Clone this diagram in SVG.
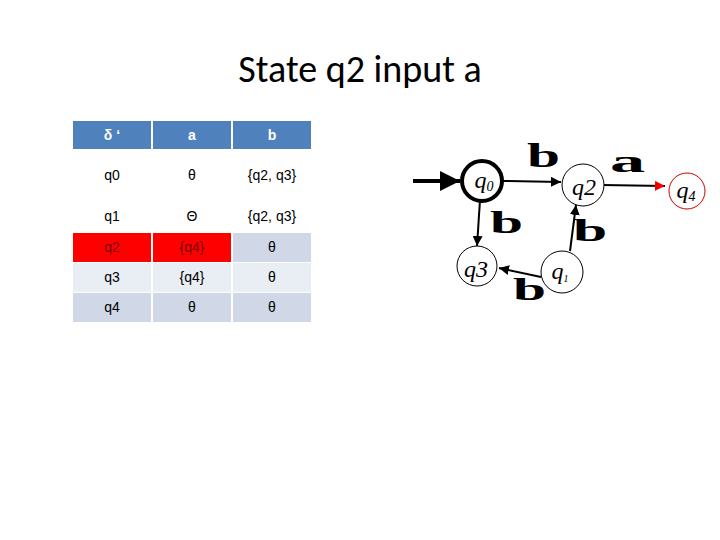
<svg xmlns="http://www.w3.org/2000/svg" width="720" height="540" viewBox="0 0 720 540">
<style>
.t{font-family:"Liberation Sans",Arial,sans-serif;font-size:14px;text-anchor:middle}
.h{fill:#fff;font-weight:bold}
.bl{font-family:"Liberation Serif",serif;font-weight:bold;font-size:44px;fill:#000}
.q{font-family:"Liberation Serif",serif;font-style:italic;font-size:24px;text-anchor:middle}
.e{stroke:#000;stroke-width:2;fill:none}
</style>
<defs>
<marker id="ar" viewBox="0 0 10 10" refX="10" refY="5" markerWidth="5" markerHeight="5" orient="auto"><path d="M0,0L10,5L0,10z" fill="#000"/></marker>
<marker id="arr" viewBox="0 0 10 10" refX="10" refY="5" markerWidth="5" markerHeight="5" orient="auto"><path d="M0,0L10,5L0,10z" fill="#e00"/></marker>
</defs>
<rect width="720" height="540" fill="#fff"/>
<text x="360" y="82" font-family="Calibri,'Liberation Sans',sans-serif" font-size="38" text-anchor="middle">State q2 input a</text>
<g id="table">
<rect x="73" y="121" width="78" height="28" fill="#4F81BD"/><rect x="153" y="121" width="78" height="28" fill="#4F81BD"/><rect x="233" y="121" width="78" height="28" fill="#4F81BD"/>
<rect x="73" y="233" width="78" height="29" fill="#FF0000"/><rect x="153" y="233" width="78" height="29" fill="#FF0000"/><rect x="233" y="233" width="78" height="29" fill="#D0D8E8"/>
<rect x="73" y="263" width="78" height="29" fill="#E9EDF4"/><rect x="153" y="263" width="78" height="29" fill="#E9EDF4"/><rect x="233" y="263" width="78" height="29" fill="#E9EDF4"/>
<rect x="73" y="293" width="78" height="29" fill="#D0D8E8"/><rect x="153" y="293" width="78" height="29" fill="#D0D8E8"/><rect x="233" y="293" width="78" height="29" fill="#D0D8E8"/>
<text class="t h" x="112" y="140">δ ‘</text><text class="t h" x="192" y="140">a</text><text class="t h" x="272" y="140">b</text>
<text class="t" x="112" y="180">q0</text><text class="t" x="192" y="180">θ</text><text class="t" x="272" y="180">{q2, q3}</text>
<text class="t" x="112" y="221">q1</text><text class="t" x="192" y="221">Θ</text><text class="t" x="272" y="221">{q2, q3}</text>
<text class="t" x="112" y="252" fill="#700">q2</text><text class="t" x="192" y="252" fill="#700">{q4}</text><text class="t" x="272" y="252">θ</text>
<text class="t" x="112" y="282">q3</text><text class="t" x="192" y="282">{q4}</text><text class="t" x="272" y="282">θ</text>
<text class="t" x="112" y="312">q4</text><text class="t" x="192" y="312">θ</text><text class="t" x="272" y="312">θ</text>
</g>
<g id="connectors">
<line x1="413" y1="181" x2="460" y2="181" stroke="#000" stroke-width="4" marker-end="url(#ar)"/>
<line class="e" x1="503" y1="181" x2="561" y2="182" stroke-width="1.5" marker-end="url(#ar)"/>
<line class="e" x1="602" y1="185" x2="665" y2="186" stroke="#e00" marker-end="url(#arr)"/>
<line class="e" x1="480" y1="200" x2="477" y2="246" stroke-width="1.5" marker-end="url(#ar)"/>
<line class="e" x1="570" y1="251" x2="576" y2="205" stroke-width="1.5" marker-end="url(#ar)"/>
<line class="e" x1="541" y1="277" x2="499" y2="268" stroke-width="1.5" marker-end="url(#ar)"/>
</g>
<g id="q0"><circle cx="482" cy="181" r="20" fill="#fff" stroke="#000" stroke-width="4"/><text class="q" x="484" y="188">q<tspan font-size="14" dy="3">0</tspan></text></g>
<g id="q2"><circle cx="583" cy="185" r="21" fill="#fff" stroke="#000"/><text class="q" x="584" y="195" font-size="32" font-style="normal" font-family="Liberation Sans,sans-serif">q2</text></g>
<g id="q4"><circle cx="687" cy="191" r="18" fill="#fff" stroke="#c00"/><text class="q" x="686" y="198">q<tspan font-size="14" dy="3">4</tspan></text></g>
<g id="q3"><circle cx="477" cy="266" r="20" fill="#fff" stroke="#000"/><text class="q" x="476" y="277" font-size="32" font-style="normal" font-family="Liberation Sans,sans-serif">q3</text></g>
<g id="q1"><circle cx="562" cy="272" r="21" fill="#fff" stroke="#000"/><text class="q" x="560" y="279" font-size="16">q<tspan font-size="10" dy="3">1</tspan></text></g>
<g id="labels">
<text class="bl" x="527" y="167" transform="translate(527 167) scale(1.35 0.75) translate(-527 -167)">b</text>
<text class="bl" x="610" y="172" transform="translate(610 172) scale(1.6 0.7) translate(-610 -172)">a</text>
<text class="bl" x="490" y="233" transform="translate(490 233) scale(1.35 0.7) translate(-490 -233)">b</text>
<text class="bl" x="573" y="241" transform="translate(573 241) scale(1.4 0.7) translate(-573 -241)">b</text>
<text class="bl" x="513" y="300" transform="translate(513 300) scale(1.35 0.7) translate(-513 -300)">b</text>
</g>
</svg>
